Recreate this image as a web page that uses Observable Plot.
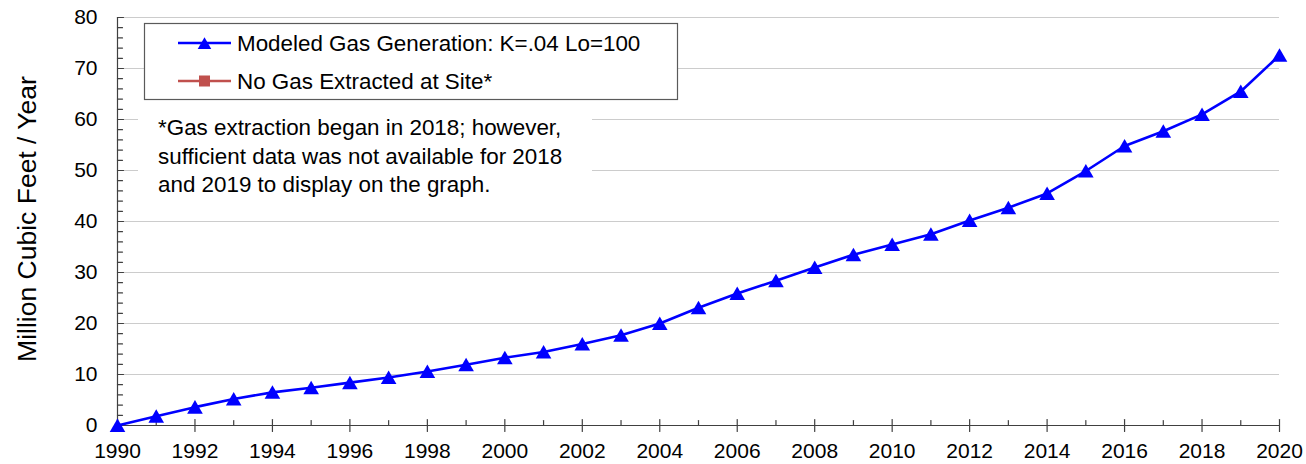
<!DOCTYPE html>
<html>
<head>
<meta charset="utf-8">
<script src="https://cdn.jsdelivr.net/npm/d3@7"></script>
<script src="https://cdn.jsdelivr.net/npm/@observablehq/plot@0.6"></script>
<style>
  html, body { margin: 0; padding: 0; background: #fff; }
  #chart svg { display: block; }
</style>
</head>
<body>
<div id="chart"></div>
<script>
// ---- data ----
const years = d3.range(1990, 2021);
const modeledGas = [0, 1.8, 3.6, 5.2, 6.5, 7.4, 8.4, 9.4, 10.6, 11.9, 13.3, 14.4, 16.0, 17.7, 20.0,
  23.1, 25.9, 28.4, 31.0, 33.5, 35.5, 37.5, 40.2, 42.7, 45.5, 49.9, 54.8, 57.7, 61.0, 65.5, 72.6];
const xTickLabels = d3.range(1990, 2021, 2);
const xMinorTicks = d3.range(1991, 2021, 2);
const yTickLabels = d3.range(0, 81, 10);
const yMinorTicks = d3.range(2, 81, 2).filter(v => v % 10 !== 0);
const legendLabels = ["Modeled Gas Generation: K=.04 Lo=100", "No Gas Extracted at Site*"];
const noteLines = ["*Gas extraction began in 2018; however,", "sufficient data was not available for 2018", "and 2019 to display on the graph."];
const yLabel = "Million Cubic Feet / Year";

const data = years.map((y, i) => ({year: y, value: modeledGas[i]}));

const blue = "#0000ff";
const red = "#c0504d";
const axisColor = "#404040";
const gridColor = "#cccccc";
const font = "'Liberation Sans', Arial, sans-serif";

const tickShape = {draw(context, l) { context.moveTo(0, 0); context.lineTo(0, -l); }};

const W = 1306, H = 464;
const plot = Plot.plot({
  width: W,
  height: H,
  marginLeft: 117,
  marginRight: 27,
  marginTop: 17,
  marginBottom: 39,
  style: {fontFamily: font, fontSize: "21px", color: "#000", background: "#fff"},
  x: {domain: [1990, 2020]},
  y: {domain: [0, 80]},
  marks: [
    Plot.ruleY(yTickLabels.filter(v => v > 0), {stroke: gridColor, strokeWidth: 1.2}),
    Plot.axisX({ticks: xTickLabels, tickFormat: d => String(d), tickSize: 0, tickPadding: 18, label: null, fill: "#000", fontSize: 21}),
    Plot.axisY({ticks: yTickLabels, tickSize: 0, tickPadding: 20, label: null, fill: "#000", fontSize: 21}),
    // inward y ticks
    Plot.vector(yTickLabels, {x: 1990, y: d => d, length: 6, rotate: 90, anchor: "start", shape: tickShape, stroke: axisColor, strokeWidth: 1.2}),
    Plot.vector(yMinorTicks, {x: 1990, y: d => d, length: 5, rotate: 90, anchor: "start", shape: tickShape, stroke: axisColor, strokeWidth: 1.2}),
    // x ticks
    Plot.vector(xTickLabels, {x: d => d, y: 0, length: 12, rotate: 0, anchor: "middle", shape: tickShape, stroke: axisColor, strokeWidth: 1.2}),
    Plot.vector(xMinorTicks, {x: d => d, y: 0, length: 5, rotate: 0, anchor: "start", shape: tickShape, stroke: axisColor, strokeWidth: 1.2}),
    Plot.ruleX([1990], {stroke: axisColor, strokeWidth: 1.2}),
    Plot.ruleY([0], {stroke: axisColor, strokeWidth: 1.2}),
    Plot.line(data, {x: "year", y: "value", stroke: blue, strokeWidth: 2.6}),
    Plot.dot(data, {x: "year", y: "value", symbol: "triangle", r: 5.8, fill: blue, stroke: "none", dy: 2})
  ]
});

document.getElementById("chart").appendChild(plot);

// ---- decorations: annotation box, legend, axis title ----
const svg = d3.select(plot);
const deco = svg.append("g").attr("font-family", font).attr("fill", "#000").attr("text-anchor", "start");

// annotation
deco.append("rect").attr("x", 138).attr("y", 108).attr("width", 454).attr("height", 97).attr("fill", "#fff");
const noteText = deco.append("text").attr("font-size", 22.4).attr("text-anchor", "start");
noteLines.forEach((t, i) => {
  noteText.append("tspan").attr("x", 158).attr("y", 135 + i * 28.5).text(t);
});

// legend
deco.append("rect").attr("x", 144.5).attr("y", 23.5).attr("width", 533).attr("height", 76)
  .attr("fill", "#fff").attr("stroke", "#5a5a5a").attr("stroke-width", 1.2);
const rows = [{y: 43, color: blue, sym: "tri"}, {y: 81, color: red, sym: "sq"}];
rows.forEach((r, i) => {
  deco.append("line").attr("x1", 178).attr("x2", 231).attr("y1", r.y).attr("y2", r.y)
    .attr("stroke", r.color).attr("stroke-width", 2.6);
  if (r.sym === "tri") {
    deco.append("path").attr("d", d3.symbol(d3.symbolTriangle, 80)())
      .attr("transform", `translate(204.5,${r.y + 2})`).attr("fill", r.color);
  } else {
    deco.append("rect").attr("x", 199).attr("y", r.y - 5.5).attr("width", 11).attr("height", 11).attr("fill", r.color);
  }
  deco.append("text").attr("x", 237).attr("y", r.y + 8).attr("font-size", 22.4).attr("text-anchor", "start").text(legendLabels[i]);
});

// y axis title
deco.append("text")
  .attr("transform", "translate(36,219) rotate(-90)")
  .attr("text-anchor", "middle")
  .attr("font-size", 26.5)
  .text(yLabel);
</script>
</body>
</html>
